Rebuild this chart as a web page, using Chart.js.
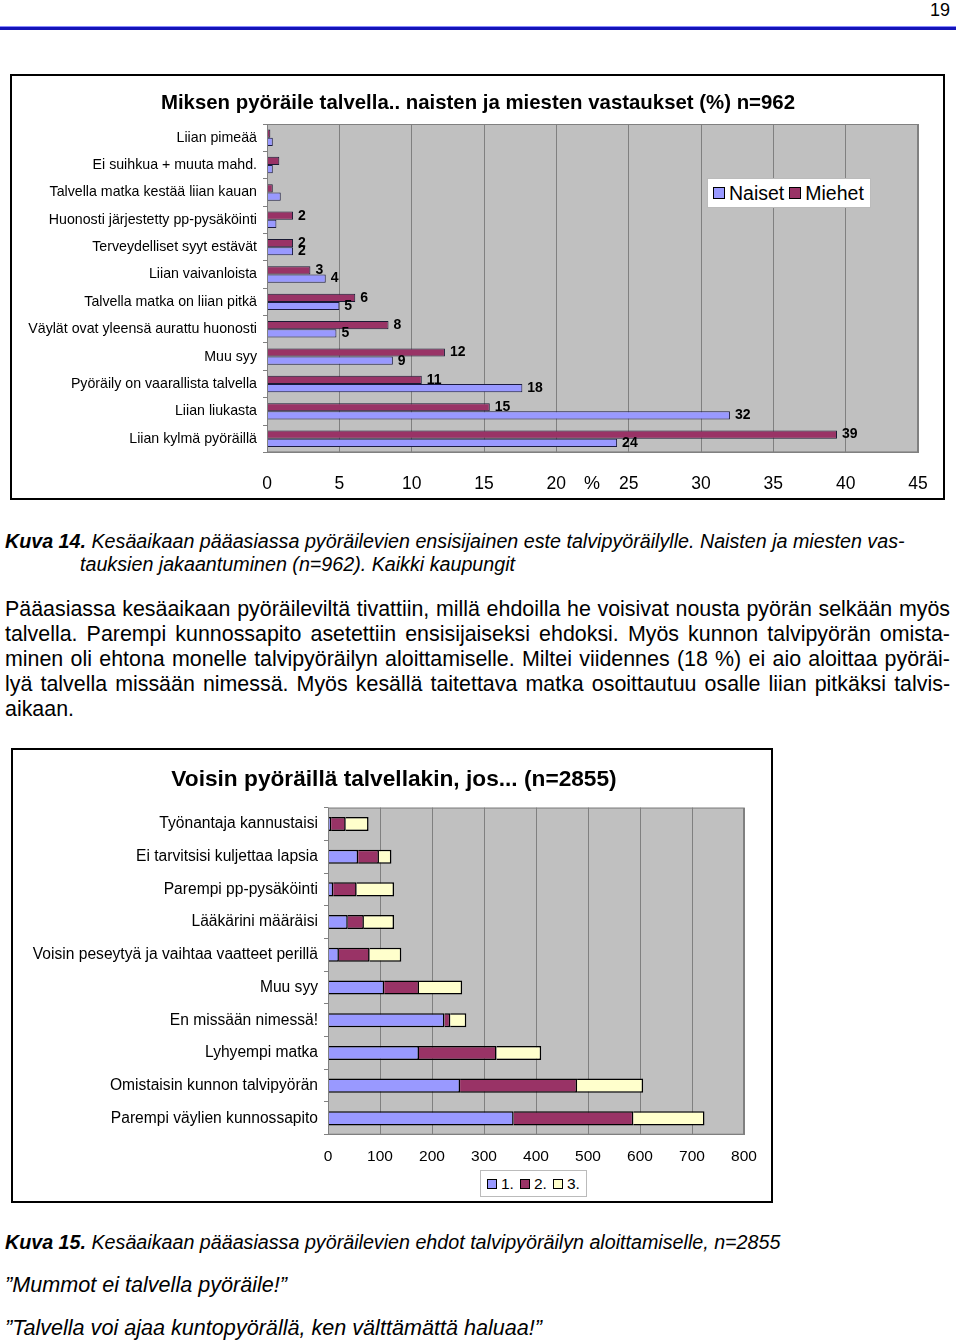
<!DOCTYPE html>
<html>
<head>
<meta charset="utf-8">
<script src="https://cdn.jsdelivr.net/npm/chart.js@4.4.1/dist/chart.umd.min.js"></script>
<style>
    body { margin: 0; background: #fff; font-family: "Liberation Sans", Arial, sans-serif; color: #000; }
    .abs { position: absolute; white-space: nowrap; }
    .centered { transform: translate(-50%, -50%); }
    .box { position: absolute; border: 2px solid #000; background: #fff; }
    .line { position: absolute; left: 5px; width: 945px; font-size: 21.4px; line-height: 25px; text-align: justify; text-align-last: justify; white-space: nowrap; }
    .caption { font-size: 19.7px; font-style: italic; }
    .quote { font-size: 21.6px; font-style: italic; }
    .legend { position: absolute; background: #fff; border: 1px solid #bbb; display: flex; align-items: center; }
    .sw { display: inline-block; border: 1px solid #000; margin-right: 4px; }
</style>
</head>
<body>

<div class="abs" style="right:10px; top:0px; font-size:18px;">19</div>
<div class="abs" style="left:0; top:26px; width:956px; height:3px; background:#1414b8; border-top:1px solid #8a8aff;"></div>

<div class="box" style="left:10px; top:74px; width:931px; height:422px;">
    <canvas id="reasonChart" width="931" height="422" style="width:931px;height:422px;"></canvas>
</div>
<div class="abs centered" style="left:478px; top:102px; font-size:20.4px; font-weight:bold;">Miksen pyöräile talvella.. naisten ja miesten vastaukset (%) n=962</div>
<div class="abs centered" style="left:592px; top:483px; font-size:18px;">%</div>
<div class="legend" style="left:707px; top:178px; width:164px; height:30px; font-size:19.5px; padding-left:5px; box-sizing:border-box;">
    <span class="sw" style="width:10px;height:10px;background:#9999ff;"></span><span style="margin-right:5px;">Naiset</span>
    <span class="sw" style="width:10px;height:10px;background:#993366;"></span><span>Miehet</span>
</div>

<div class="abs caption" style="left:5px; top:530px;"><b>Kuva 14.</b> Kesäaikaan pääasiassa pyöräilevien ensisijainen este talvipyöräilylle. Naisten ja miesten vas-</div>
<div class="abs caption" style="left:80px; top:553px;">tauksien jakaantuminen (n=962). Kaikki kaupungit</div>

<div class="line" style="top:597px;">Pääasiassa kesäaikaan pyöräileviltä tivattiin, millä ehdoilla he voisivat nousta pyörän selkään myös</div>
<div class="line" style="top:622px;">talvella. Parempi kunnossapito asetettiin ensisijaiseksi ehdoksi. Myös kunnon talvipyörän omista-</div>
<div class="line" style="top:647px;">minen oli ehtona monelle talvipyöräilyn aloittamiselle. Miltei viidennes (18 %) ei aio aloittaa pyöräi-</div>
<div class="line" style="top:672px;">lyä talvella missään nimessä. Myös kesällä taitettava matka osoittautuu osalle liian pitkäksi talvis-</div>
<div class="line" style="top:697px; text-align-last:left;">aikaan.</div>

<div class="box" style="left:11px; top:748px; width:758px; height:451px;">
    <canvas id="conditionChart" width="758" height="451" style="width:758px;height:451px;"></canvas>
</div>
<div class="abs centered" style="left:394px; top:778px; font-size:22.7px; font-weight:bold;">Voisin pyöräillä talvellakin, jos... (n=2855)</div>
<div class="legend" style="left:480px; top:1170px; width:107px; height:27px; font-size:15.5px; padding-left:6px; box-sizing:border-box;">
    <span class="sw" style="width:8px;height:8px;background:#9999ff;"></span><span style="margin-right:6px;">1.</span>
    <span class="sw" style="width:8px;height:8px;background:#993366;"></span><span style="margin-right:6px;">2.</span>
    <span class="sw" style="width:8px;height:8px;background:#ffffcc;"></span><span>3.</span>
</div>

<div class="abs caption" style="left:5px; top:1231px;"><b>Kuva 15.</b> Kesäaikaan pääasiassa pyöräilevien ehdot talvipyöräilyn aloittamiselle, n=2855</div>
<div class="abs quote" style="left:5px; top:1272px;">”Mummot ei talvella pyöräile!”</div>
<div class="abs quote" style="left:5px; top:1315px;">”Talvella voi ajaa kuntopyörällä, ken välttämättä haluaa!”</div>

<script>
// chart 1: reasons (%)
const reasonLabels = [
    'Liian pimeää',
    'Ei suihkua + muuta mahd.',
    'Talvella matka kestää liian kauan',
    'Huonosti järjestetty pp-pysäköinti',
    'Terveydelliset syyt estävät',
    'Liian vaivanloista',
    'Talvella matka on liian pitkä',
    'Väylät ovat yleensä aurattu huonosti',
    'Muu syy',
    'Pyöräily on vaarallista talvella',
    'Liian liukasta',
    'Liian kylmä pyöräillä'
];
const miehetValues = [0.23, 0.85, 0.4, 1.8, 1.8, 3.0, 6.1, 8.4, 12.3, 10.7, 15.4, 39.4];
const naisetValues = [0.4, 0.4, 0.95, 0.65, 1.8, 4.06, 5.0, 4.8, 8.7, 17.65, 32.0, 24.2];
const percentTicks = [0, 5, 10, 15, 20, 25, 30, 35, 40, 45];

// chart 2: conditions (count)
const conditionLabels = [
    'Työnantaja kannustaisi',
    'Ei tarvitsisi kuljettaa lapsia',
    'Parempi pp-pysäköinti',
    'Lääkärini määräisi',
    'Voisin peseytyä ja vaihtaa vaatteet perillä',
    'Muu syy',
    'En missään nimessä!',
    'Lyhyempi matka',
    'Omistaisin kunnon talvipyörän',
    'Parempi väylien kunnossapito'
];
const firstChoice = [6, 58, 10, 38, 21, 108, 224, 175, 254, 357];
const secondChoice = [28, 40, 45, 31, 59, 67, 11, 149, 225, 230];
const thirdChoice = [44, 24, 72, 58, 61, 83, 31, 86, 127, 137];
const countTicks = [0, 100, 200, 300, 400, 500, 600, 700, 800];

Chart.defaults.font.family = '"Liberation Sans", Arial, sans-serif';
Chart.defaults.color = '#000';

const plotBackground = {
    id: 'plotBackground',
    beforeDraw(chart) {
        const a = chart.chartArea;
        const ctx = chart.ctx;
        ctx.save();
        ctx.fillStyle = '#c0c0c0';
        ctx.fillRect(a.left, a.top, a.right - a.left, a.bottom - a.top);
        ctx.restore();
    },
    afterDraw(chart) {
        const a = chart.chartArea;
        const ctx = chart.ctx;
        ctx.save();
        ctx.strokeStyle = '#808080';
        ctx.lineWidth = 1;
        ctx.strokeRect(a.left + 0.5, a.top + 0.5, a.right - a.left - 1, a.bottom - a.top - 1);
        ctx.restore();
    }
};

const valueLabels = {
    id: 'valueLabels',
    afterDatasetsDraw(chart) {
        const ctx = chart.ctx;
        ctx.save();
        ctx.font = 'bold 14px "Liberation Sans", Arial, sans-serif';
        ctx.fillStyle = '#000';
        ctx.textBaseline = 'middle';
        chart.data.datasets.forEach((ds, i) => {
            chart.getDatasetMeta(i).data.forEach((bar, j) => {
                const v = ds.data[j];
                if (v < 1.5) return;
                ctx.fillText(String(Math.round(v)), bar.x + 5, bar.y);
            });
        });
        ctx.restore();
    }
};

function catAxis(width, fontSize) {
    return {
        grid: { drawOnChartArea: false, drawTicks: true, tickLength: 4, color: '#808080', offset: true },
        border: { display: false },
        ticks: { font: { size: fontSize }, padding: 6, autoSkip: false },
        afterFit: function (scale) { scale.width = width; }
    };
}

function valueAxis(min, max, tickValues, fontSize, gap, height) {
    return {
        min: min,
        max: max,
        afterBuildTicks: scale => { scale.ticks = tickValues.map(v => ({ value: v })); },
        grid: { color: '#808080', drawTicks: true, tickLength: gap, tickColor: 'rgba(0,0,0,0)' },
        border: { color: '#808080' },
        ticks: { font: { size: fontSize }, padding: 3, maxRotation: 0 },
        afterFit: function (scale) { scale.height = height; }
    };
}

new Chart(document.getElementById('reasonChart').getContext('2d'), {
    type: 'bar',
    plugins: [plotBackground, valueLabels],
    data: {
        labels: reasonLabels,
        datasets: [
            {
                label: 'Miehet',
                data: miehetValues,
                backgroundColor: '#993366',
                borderColor: '#1a1a33',
                borderWidth: 1,
                categoryPercentage: 0.6,
                barPercentage: 1
            },
            {
                label: 'Naiset',
                data: naisetValues,
                backgroundColor: '#9999ff',
                borderColor: '#1a1a40',
                borderWidth: 1,
                categoryPercentage: 0.6,
                barPercentage: 1
            }
        ]
    },
    options: {
        indexAxis: 'y',
        responsive: false,
        animation: false,
        layout: { padding: { left: 0, right: 25, top: 48, bottom: 0 } },
        plugins: {
            legend: { display: false },
            tooltip: { enabled: false }
        },
        scales: {
            x: valueAxis(0, 45, percentTicks, 17.5, 18, 45.6),
            y: catAxis(255, 14.2)
        }
    }
});

new Chart(document.getElementById('conditionChart').getContext('2d'), {
    type: 'bar',
    plugins: [plotBackground],
    data: {
        labels: conditionLabels,
        datasets: [
            { label: '1.', data: firstChoice, backgroundColor: '#9999ff' },
            { label: '2.', data: secondChoice, backgroundColor: '#993366' },
            { label: '3.', data: thirdChoice, backgroundColor: '#ffffcc' }
        ].map(ds => Object.assign(ds, {
            borderColor: '#000',
            borderWidth: 1.5,
            categoryPercentage: 0.43,
            barPercentage: 1
        }))
    },
    options: {
        indexAxis: 'y',
        responsive: false,
        animation: false,
        layout: { padding: { left: 0, right: 27, top: 57.6, bottom: 35 } },
        plugins: {
            legend: { display: false },
            tooltip: { enabled: false }
        },
        scales: {
            x: Object.assign(valueAxis(0, 800, countTicks, 15.5, 10, 31.3), { stacked: true }),
            y: Object.assign(catAxis(315, 15.6), { stacked: true })
        }
    }
});
</script>
</body>
</html>
